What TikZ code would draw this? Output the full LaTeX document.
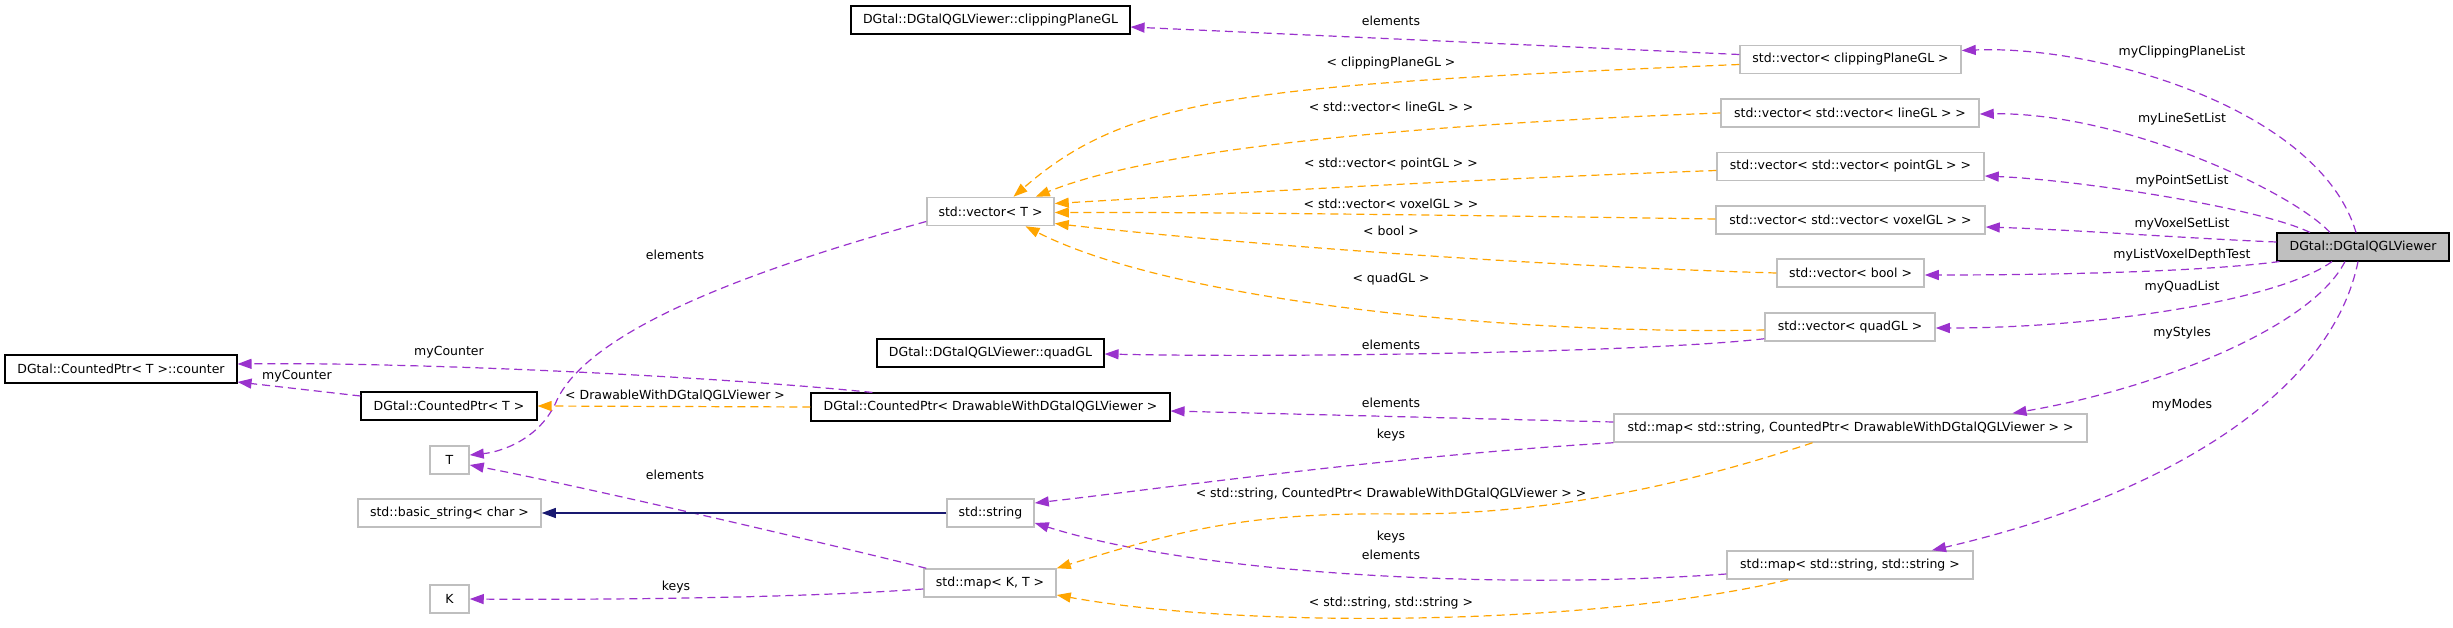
\documentclass[tikz,border=0pt]{standalone}
\usepackage{fontspec}
\setmainfont{DejaVu Sans}
\usetikzlibrary{arrows.meta,calc}
\definecolor{dpurple}{HTML}{9A32CD}
\definecolor{dorange}{HTML}{FFA500}
\definecolor{dnavy}{HTML}{191970}
\definecolor{boxgrey}{HTML}{BFBFBF}
\begin{document}
\begin{tikzpicture}[x=1pt,y=-1pt,
  every node/.style={font=\fontsize{12.5}{15}\selectfont, inner sep=0pt},
  gbox/.style={draw=boxgrey, line width=1.5pt, minimum height=28pt, fill=white},
  bbox/.style={draw=black, line width=1.1pt, minimum height=28pt, fill=white},
  vbox/.style={draw=black, line width=1.1pt, minimum height=28pt, fill=boxgrey},
  pe/.style={draw=dpurple, line width=1.2pt, dash pattern=on 8pt off 5pt, -{Triangle[length=14pt,width=10pt]}},
  oe/.style={draw=dorange, line width=1.2pt, dash pattern=on 8pt off 5pt, -{Triangle[length=14pt,width=10pt]}},
  ne/.style={draw=dnavy, line width=1.2pt, -{Triangle[length=14pt,width=10pt]}}]
\useasboundingbox[fill=white] (0,0) rectangle (2453,628);

% nodes
\node[bbox, minimum width=279pt] (clipGL) at (990.5,20) {DGtal::DGtalQGLViewer::clippingPlaneGL};
\node[gbox, minimum width=221pt] (vclip) at (1850.5,59.5) {std::vector< clippingPlaneGL >};
\node[gbox, minimum width=258pt] (vline) at (1850,113) {std::vector< std::vector< lineGL > >};
\node[gbox, minimum width=267pt] (vpoint) at (1850.5,166.5) {std::vector< std::vector< pointGL > >};
\node[gbox, minimum width=269pt] (vvoxel) at (1850.5,220) {std::vector< std::vector< voxelGL > >};
\node[gbox, minimum width=147pt] (vbool) at (1850.5,273) {std::vector< bool >};
\node[gbox, minimum width=170pt] (vquad) at (1850,327) {std::vector< quadGL >};
\node[vbox, minimum width=172pt] (viewer) at (2363,247) {DGtal::DGtalQGLViewer};
\node[gbox, minimum width=127pt] (vT) at (990.5,211.5) {std::vector< T >};
\node[bbox, minimum width=227pt] (quadGL) at (990.5,353) {DGtal::DGtalQGLViewer::quadGL};
\node[bbox, minimum width=232pt] (counter) at (121,369) {DGtal::CountedPtr< T >::counter};
\node[bbox, minimum width=176pt] (cptrT) at (449,406) {DGtal::CountedPtr< T >};
\node[bbox, minimum width=359pt] (cptrD) at (990.5,407) {DGtal::CountedPtr< DrawableWithDGtalQGLViewer >};
\node[gbox, minimum width=473pt] (mapSC) at (1850.5,428) {std::map< std::string, CountedPtr< DrawableWithDGtalQGLViewer > >};
\node[gbox, minimum width=39pt] (T) at (449.5,460) {T};
\node[gbox, minimum width=183pt] (bstr) at (449.5,513) {std::basic\_string< char >};
\node[gbox, minimum width=87pt] (str) at (990.5,513) {std::string};
\node[gbox, minimum width=39pt] (K) at (449.5,599) {K};
\node[gbox, minimum width=132pt] (mapKT) at (990,583) {std::map< K, T >};
\node[gbox, minimum width=246pt] (mapSS) at (1850,565) {std::map< std::string, std::string >};

% viewer members
\draw[pe] ($(viewer.north)+(-7,0)$) .. controls (2320,110) and (2100,45) .. ($(vclip.east)+(0,-9)$);
\draw[pe] ($(viewer.north)+(-33,0)$) .. controls (2290,190) and (2120,112) .. ($(vline.east)+(0,1)$);
\draw[pe] ($(viewer.north)+(-53,0)$) .. controls (2260,208) and (2080,180) .. ($(vpoint.east)+(0,9.5)$);
\draw[pe] ($(viewer.west)+(0,-5)$) .. controls (2180,238) and (2080,230) .. ($(vvoxel.east)+(0,7)$);
\draw[pe] ($(viewer.south west)+(3,0)$) .. controls (2200,272) and (2050,275) .. ($(vbool.east)+(0,2)$);
\draw[pe] ($(viewer.south)+(-31,0)$) .. controls (2280,300) and (2100,328) .. ($(vquad.east)+(0,1)$);
\draw[pe] ($(viewer.south)+(-18,0)$) .. controls (2310,330) and (2150,390) .. ($(mapSC.north)+(162,0)$);
\draw[pe] ($(viewer.south)+(-5,0)$) .. controls (2330,400) and (2150,500) .. ($(mapSS.north)+(82,0)$);
\node (l1) at (2182,52) {myClippingPlaneList};
\node (l2) at (2182,119) {myLineSetList};
\node (l3) at (2182,181) {myPointSetList};
\node (l4) at (2182,224) {myVoxelSetList};
\node (l5) at (2182,255) {myListVoxelDepthTest};
\node (l6) at (2182,287) {myQuadList};
\node (l7) at (2182,333) {myStyles};
\node (l8) at (2182,405) {myModes};

% template instances -> std::vector<T>
\draw[oe] ($(vclip.west)+(0,5)$) .. controls (1250,85) and (1130,95) .. ($(vT.north)+(23,0)$);
\draw[oe] (vline.west) .. controls (1400,125) and (1150,150) .. ($(vT.north east)+(-19,0)$);
\draw[oe] ($(vpoint.west)+(0,4)$) .. controls (1450,180) and (1200,195) .. ($(vT.east)+(0,-8)$);
\draw[oe] ($(vvoxel.west)+(0,-1)$) .. controls (1450,215) and (1200,212) .. ($(vT.east)+(0,1)$);
\draw[oe] (vbool.west) .. controls (1500,265) and (1200,240) .. ($(vT.east)+(0,12)$);
\draw[oe] ($(vquad.west)+(0,3)$) .. controls (1500,335) and (1170,300) .. ($(vT.south)+(35,0)$);
\node (o1) at (1391,63) {< clippingPlaneGL >};
\node (o2) at (1391,107) {< std::vector< lineGL > >};
\node (o3) at (1391,164) {< std::vector< pointGL > >};
\node (o4) at (1391,204) {< std::vector< voxelGL > >};
\node (o5) at (1391,231) {< bool >};
\node (o6) at (1391,279) {< quadGL >};

% elements / keys
\draw[pe] ($(vclip.west)+(0,-5)$) -- ($(clipGL.east)+(0,7)$);
\node (e1) at (1391,21) {elements};
\draw[pe] ($(vquad.south west)+(0,-3)$) .. controls (1650,352) and (1300,358) .. ($(quadGL.east)+(0,1)$);
\node (e2) at (1391,345) {elements};
\draw[pe] ($(mapSC.west)+(0,-6)$) -- ($(cptrD.east)+(0,4)$);
\node (e3) at (1391,403) {elements};
\draw[pe] (mapSC.south west) .. controls (1400,455) and (1150,490) .. ($(str.east)+(0,-10)$);
\node (e4) at (1391,435) {keys};
\draw[pe] ($(mapSS.west)+(0,9)$) .. controls (1500,590) and (1200,575) .. ($(str.east)+(0,10)$);
\node (e5) at (1391,537) {keys};
\node (e5b) at (1391,555) {elements};
\draw[pe] ($(vT.west)+(0,10)$) .. controls (750,270) and (590,330) .. (557,400) .. controls (540,440) and (500,452) .. ($(T.east)+(0,-5)$);
\node (e6) at (675,255) {elements};
\draw[pe] ($(mapKT.north west)+(3,0)$) .. controls (750,525) and (550,480) .. ($(T.east)+(0,5)$);
\node (e7) at (675,475) {elements};
\draw[pe] ($(mapKT.west)+(0,6)$) .. controls (800,598) and (600,600) .. (K.east);
\node (e8) at (676,587) {keys};
\draw[pe] ($(cptrD.north west)+(62,0)$) .. controls (700,375) and (400,362) .. ($(counter.east)+(0,-5)$);
\node (e9) at (449,352) {myCounter};
\draw[pe] ($(cptrT.west)+(0,-10)$) -- ($(counter.east)+(0,13)$);
\node (e10) at (297,376) {myCounter};

% other template instances
\draw[oe] (cptrD.west) -- (cptrT.east);
\node (o7) at (675,396) {< DrawableWithDGtalQGLViewer >};
\draw[oe] ($(mapSC.south)+(-38,0)$) .. controls (1700,480) and (1560,515) .. (1400,514) .. controls (1250,512) and (1180,530) .. (mapKT.north east);
\node (o8) at (1391,494) {< std::string, CountedPtr< DrawableWithDGtalQGLViewer > >};
\draw[oe] ($(mapSS.south)+(-62,0)$) .. controls (1600,625) and (1250,630) .. ($(mapKT.east)+(0,12)$);
\node (o9) at (1391,603) {< std::string, std::string >};

% inheritance
\draw[ne] (str.west) -- (bstr.east);
\end{tikzpicture}
\end{document}
